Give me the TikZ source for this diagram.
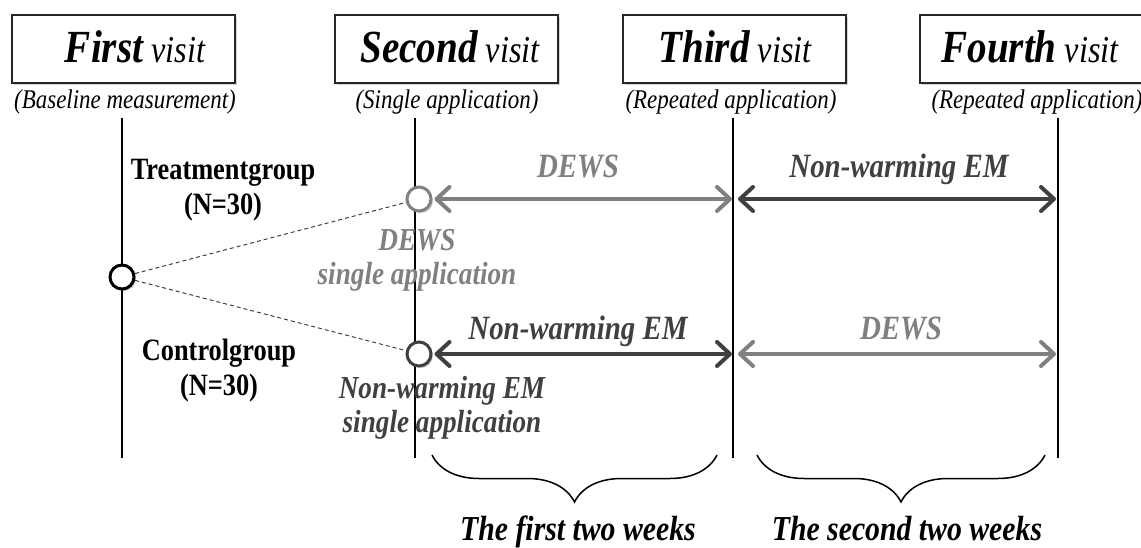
\documentclass[tikz,border=0pt]{standalone}
\usepackage{fontspec}
\setmainfont[FakeStretch=0.85]{Liberation Serif}
\usetikzlibrary{arrows.meta,shadows,decorations.pathreplacing}
\definecolor{lgray}{HTML}{808080}
\definecolor{dgray}{HTML}{404040}
\newcommand{\myfs}[2]{\fontsize{#1}{#2}\selectfont}
\begin{document}
\begin{tikzpicture}[x=1pt,y=-1pt,
  visitbox/.style={draw=black!85, line width=1.2pt, fill=white, minimum width=223pt, minimum height=68pt, inner sep=0pt,
    drop shadow={opacity=0.35, shadow xshift=2pt, shadow yshift=-2pt}},
  title/.style={anchor=base, inner sep=0pt, font=\myfs{38}{42}\itshape},
  sub/.style={anchor=base, inner sep=0pt, font=\myfs{27}{30}\itshape},
  vline/.style={line width=1.8pt, black},
  dot/.style={circle, fill=white, line width=3pt, minimum size=24pt, inner sep=0pt,
    drop shadow={opacity=0.4, shadow xshift=2pt, shadow yshift=-2pt}},
  dashline/.style={dash pattern=on 4pt off 3pt, line width=1pt, dgray},
  barr/.style={line width=4pt, {Straight Barb[length=13pt,width=24pt,round]}-{Straight Barb[length=13pt,width=24pt,round]}},
  grp/.style={align=center, inner sep=0pt, font=\myfs{31}{35}\bfseries},
  appl/.style={align=center, inner sep=0pt, font=\myfs{32}{34}\bfseries\itshape},
  arrlab/.style={anchor=base, inner sep=0pt, font=\myfs{34}{36}\bfseries\itshape},
  weeks/.style={anchor=base, inner sep=0pt, font=\myfs{35}{38}\bfseries\itshape},
  bracestyle/.style={decorate, decoration={brace, mirror, amplitude=47pt}, line width=1.5pt, black}
]
\useasboundingbox (0,0) rectangle (1141,548);
% visit boxes
\node[visitbox] (b1) at (123.5,49) {};
\node[visitbox] (b2) at (446.5,49) {};
\node[visitbox] (b3) at (734.5,49) {};
\node[visitbox] (b4) at (1031.5,49) {};
\node[title] (t1) at (135,63) {{\myfs{46}{50}\bfseries First} visit};
\node[title] (t2) at (450,63) {{\myfs{46}{50}\bfseries Second} visit};
\node[title] (t3) at (735,63) {{\myfs{46}{50}\bfseries Third} visit};
\node[title] (t4) at (1030,63) {{\myfs{46}{50}\bfseries Fourth} visit};
\node[sub] (s1) at (125,109) {(Baseline measurement)};
\node[sub] (s2) at (447,109) {(Single application)};
\node[sub] (s3) at (731,109) {(Repeated application)};
\node[sub] (s4) at (1037,109) {(Repeated application)};
% vertical lines
\coordinate (v1t) at (122,118); \coordinate (v1b) at (122,458);
\coordinate (v2t) at (415,118); \coordinate (v2b) at (415,458);
\coordinate (v3t) at (733,118); \coordinate (v3b) at (733,458);
\coordinate (v4t) at (1058,118); \coordinate (v4b) at (1058,458);
\draw[vline] (v1t) -- (v1b);
\draw[vline] (v2t) -- (v2b);
\draw[vline] (v3t) -- (v3b);
\draw[vline] (v4t) -- (v4b);
% arrow end points on the lines
\coordinate (a3t) at (733,199); \coordinate (a4t) at (1058,199);
\coordinate (a3b) at (733,354); \coordinate (a4b) at (1058,354);
% circles
\node[dot, draw=black] (base) at (122,277) {};
\node[dot, draw=lgray] (ct) at (419,199) {};
\node[dot, draw=dgray] (cb) at (419,354) {};
% dashed links
\draw[dashline] (base) -- (ct);
\draw[dashline] (base) -- (cb);
% arrows
\draw[barr, lgray, shorten <=2pt, shorten >=1pt] (ct.east) -- (a3t);
\draw[barr, dgray, shorten <=5pt, shorten >=2pt] (a3t) -- (a4t);
\draw[barr, dgray, shorten <=2pt, shorten >=1pt] (cb.east) -- (a3b);
\draw[barr, lgray, shorten <=5pt, shorten >=2pt] (a3b) -- (a4b);
% arrow labels
\node[arrlab, lgray] (l1) at (578,178) {DEWS};
\node[arrlab, dgray] (l2) at (899,178) {Non-warming EM};
\node[arrlab, dgray] (l3) at (578,339) {Non-warming EM};
\node[arrlab, lgray] (l4) at (901,339) {DEWS};
% group labels
\node[grp] (tg) at (223,190) {Treatmentgroup\\(N=30)};
\node[grp] (cg) at (219,371) {Controlgroup\\(N=30)};
% single application labels
\node[appl, lgray] (sa1) at (417,260) {DEWS\\single application};
\node[appl, dgray] (sa2) at (442,408) {Non-warming EM\\single application};
% braces
\coordinate (br1l) at (432,455); \coordinate (br1r) at (717,455);
\coordinate (br2l) at (757,455); \coordinate (br2r) at (1045,455);
\draw[bracestyle] (br1l) -- (br1r);
\draw[bracestyle] (br2l) -- (br2r);
\node[weeks] (w1) at (578,540) {The first two weeks};
\node[weeks] (w2) at (907,540) {The second two weeks};
\end{tikzpicture}
\end{document}
